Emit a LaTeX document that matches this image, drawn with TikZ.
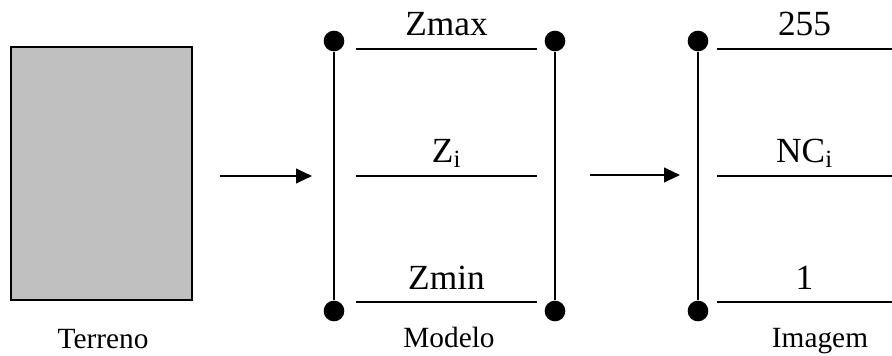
\documentclass[tikz,border=0pt]{standalone}
\usepackage{fontspec}
\setmainfont{Liberation Serif}
\usetikzlibrary{arrows.meta,positioning}
\definecolor{cinza}{RGB}{192,192,192}

\begin{document}
\begin{tikzpicture}[x=0.75pt,y=-0.75pt,line width=1.5pt,
    ponto/.style={circle,fill=black,inner sep=0pt,minimum size=15.5pt},
    valor/.style={font=\fontsize{26.5}{28}\selectfont,anchor=base,yshift=9.75pt},
    titulo/.style={font=\fontsize{22}{24}\selectfont,anchor=base},
    seta/.style={-{Triangle[length=12pt,width=11pt]}}]
    \useasboundingbox (0,0) rectangle (892,356);
    % terreno
    \node[draw,fill=cinza,inner sep=0pt,minimum width=135.75pt,minimum height=189.75pt](T) at (101.5,173.5){};
    \node[titulo](TL) at (103,348){Terreno};
    % modelo
    \node[ponto](M1) at (334,41){};
    \node[ponto](M2) at (334,311){};
    \node[ponto](M3) at (555,41){};
    \node[ponto](M4) at (555,311){};
    \node[titulo](ML) at (449,347){Modelo};
    % imagem
    \node[ponto](I1) at (698,41){};
    \node[ponto](I2) at (698,311){};
    \node[titulo](IL) at (820,347){Imagem};
    \draw (M1) -- (M2);
    \draw (M3) -- (M4);
    \draw (I1) -- (I2);
    \foreach \n/\y/\zm/\nc in {1/49/Zmax/255, 2/176/{Z\textsubscript{i}}/{NC\textsubscript{i}}, 3/302/Zmin/1}{
        \coordinate (ma\n) at (356,\y);
        \coordinate (mb\n) at (537,\y);
        \coordinate (ia\n) at (717,\y);
        \coordinate (ib\n) at (892,\y);
        \draw (ma\n) -- node[valor]{\zm} (mb\n);
        \draw (ia\n) -- node[valor]{\nc} (ib\n);
    }
    % setas
    \coordinate (A1) at (220,176);
    \coordinate (B1) at (312,176);
    \coordinate (A2) at (590,175);
    \coordinate (B2) at (680,175);
    \draw[seta] (A1) -- (B1);
    \draw[seta] (A2) -- (B2);
\end{tikzpicture}
\end{document}
